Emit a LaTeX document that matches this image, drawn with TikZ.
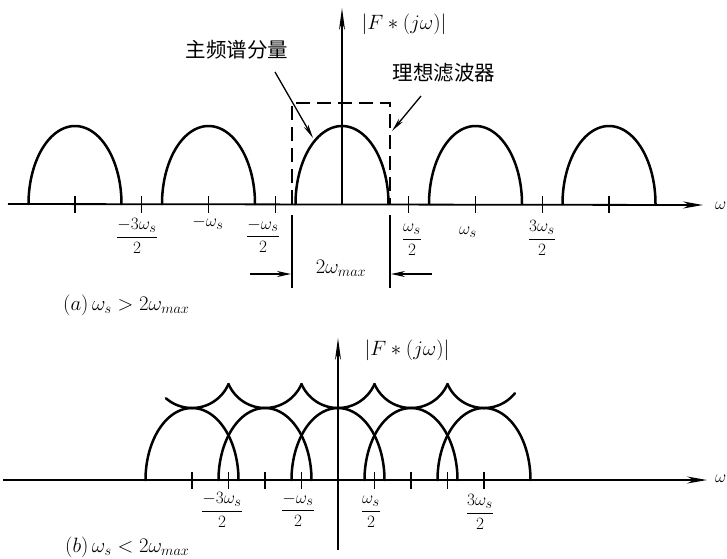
\documentclass[tikz,border=0pt]{standalone}
\usepackage{amsmath}
\usepackage{fontspec}
\newfontfamily\cjkfont{Noto Sans CJK SC}
\usetikzlibrary{arrows.meta}
\begin{document}
\begin{tikzpicture}[x=1pt,y=-1pt,
  axisline/.style={line width=1.8pt},
  humpline/.style={line width=2.5pt, line cap=round},
  tickline/.style={line width=1.4pt},
  boxline/.style={line width=1.5pt, dash pattern=on 14pt off 7pt},
  solidline/.style={line width=1.5pt},
  lbl/.style={inner sep=0pt, font=\fontsize{19}{22}\selectfont},
  caplbl/.style={inner sep=0pt, font=\fontsize{21}{24}\selectfont},
  cjklbl/.style={inner sep=0pt, font=\fontsize{20.5}{24}\selectfont\cjkfont},
  axarrow/.style={-{Stealth[length=20pt,width=7pt]}},
  uparrow/.style={-{Stealth[length=22pt,width=6pt]}},
  dimarrow/.style={line width=1.5pt, -{Stealth[length=14pt,width=6pt]}},
  leader/.style={line width=1.3pt, -{Stealth[length=14pt,width=5pt]}}
]
\useasboundingbox (0,0) rectangle (727,558);

% ---------------- (a) ----------------
\coordinate (aL) at (8,204);
\coordinate (aR) at (703,205);
\draw[axisline,axarrow] (aL) -- (aR);
\node[lbl,anchor=west] (omegaA) at (715,206) {$\omega$};

\coordinate (vaB) at (342,204);
\coordinate (vaT) at (342,8);
\draw[axisline,uparrow] (vaB) -- (vaT);
\node[caplbl] (FA) at (404,24) {$|F*(j\omega)|$};

\foreach \c in {75,208.5,342,475.5,609}
  \draw[humpline] plot[domain=180:0,samples=61] ({\c+46.5*cos(\x)},{204-78*sin(\x)});

\foreach \k in {-4,-3,-2,-1,1,2,3,4}
  \draw[tickline] ({342+66.75*\k},196) -- ({342+66.75*\k},213);

% ideal filter box
\draw[boxline] (292,204) -- (292,103) -- (390,103) -- (390,204);
\coordinate (bxL1) at (292,215); \coordinate (bxL2) at (292,288);
\coordinate (bxR1) at (390,215); \coordinate (bxR2) at (390,288);
\draw[solidline] (bxL1) -- (bxL2);
\draw[solidline] (bxR1) -- (bxR2);

\coordinate (dL) at (250,274); \coordinate (dLe) at (291,274);
\coordinate (dR) at (432,274); \coordinate (dRe) at (391,274);
\draw[dimarrow] (dL) -- (dLe);
\draw[dimarrow] (dR) -- (dRe);
\node[caplbl] (wmax) at (341,268) {$2\omega_{max}$};

\node[lbl] (a1) at (137,236) {$\dfrac{-3\omega_s}{2}$};
\node[lbl] (a2) at (208,223) {$-\omega_s$};
\node[lbl] (a3) at (263,236) {$\dfrac{-\omega_s}{2}$};
\node[lbl] (a4) at (412,240) {$\dfrac{\omega_s}{2}$};
\node[lbl] (a5) at (468,232) {$\omega_s$};
\node[lbl] (a6) at (542,238) {$\dfrac{3\omega_s}{2}$};

% callouts
\node[cjklbl] (mainT) at (237,50) {主频谱分量};
\coordinate (mainS) at (275,72);
\coordinate (mainE) at (313,138);
\draw[leader] (mainS) -- (mainE);

\node[cjklbl] (filtT) at (444,73) {理想滤波器};
\coordinate (filtS) at (421,96);
\coordinate (filtE) at (392,131);
\draw[leader] (filtS) -- (filtE);

\node[caplbl,anchor=west] (capA) at (63,305) {$(a)\,\omega_s>2\omega_{max}$};

% ---------------- (b) ----------------
\coordinate (bL) at (3,480);
\coordinate (bR) at (707,480);
\draw[axisline,axarrow] (bL) -- (bR);
\node[lbl,anchor=west] (omegaB) at (715,479) {$\omega$};

\coordinate (vbB) at (338,550);
\coordinate (vbT) at (338,338);
\draw[axisline,uparrow] (vbB) -- (vbT);
\node[caplbl] (FB) at (407,350) {$|F*(j\omega)|$};

\foreach \c in {192,265,338,411,484}
  \draw[humpline] plot[domain=180:0,samples=61] ({\c+46.5*cos(\x)},{480-72*sin(\x)});

% summed spectrum (scallops)
\draw[humpline] plot[domain=-41:66.7,samples=40] ({192+39.75*sin(\x)},{368.25+39.75*cos(\x)});
\foreach \c in {265,338,411}
  \draw[humpline] plot[domain=-66.7:66.7,samples=50] ({\c+39.75*sin(\x)},{368.25+39.75*cos(\x)});
\draw[humpline] plot[domain=-66.7:51,samples=40] ({484+39.75*sin(\x)},{368.25+39.75*cos(\x)});

\foreach \k in {-4,-3,-2,-1,1,2,3,4}
  \draw[tickline] ({338+36.5*\k},472) -- ({338+36.5*\k},489);

\node[lbl] (b1) at (222,510) {$\dfrac{-3\omega_s}{2}$};
\node[lbl] (b2) at (298,510) {$\dfrac{-\omega_s}{2}$};
\node[lbl] (b3) at (371,512) {$\dfrac{\omega_s}{2}$};
\node[lbl] (b4) at (480,512) {$\dfrac{3\omega_s}{2}$};

\node[caplbl,anchor=west] (capB) at (65,547) {$(b)\,\omega_s<2\omega_{max}$};
\end{tikzpicture}
\end{document}
